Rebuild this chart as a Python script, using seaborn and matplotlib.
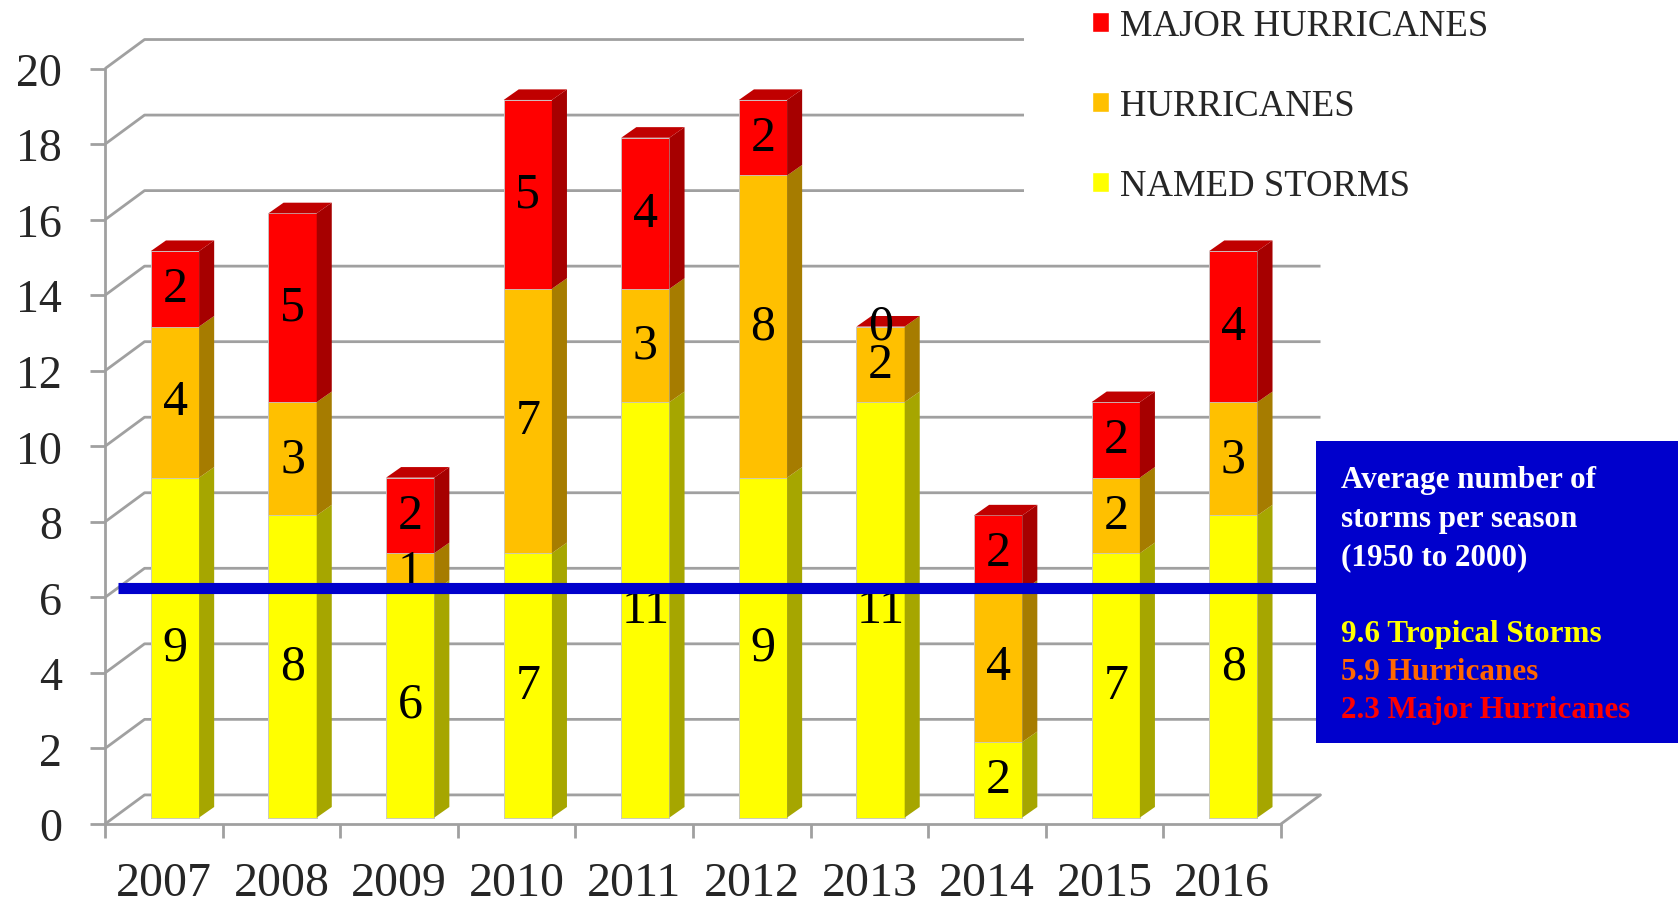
import numpy as np
import pandas as pd
import matplotlib
matplotlib.use('Agg')
import matplotlib.pyplot as plt
from matplotlib.patches import Polygon, Rectangle, Patch
import seaborn as sns

# Data
years = ['2007', '2008', '2009', '2010', '2011', '2012', '2013', '2014', '2015', '2016']
named_storms = [9, 8, 6, 7, 11, 9, 11, 2, 7, 8]
hurricanes = [4, 3, 1, 7, 3, 8, 2, 4, 2, 3]
major_hurricanes = [2, 5, 2, 5, 4, 2, 0, 2, 2, 4]
y_ticks = list(range(0, 21, 2))
avg_level = 6.25
box_lines = ['Average number of', 'storms per season', '(1950 to 2000)', '',
             '9.6 Tropical Storms', '5.9 Hurricanes', '2.3 Major Hurricanes']
box_colors = ['white', 'white', 'white', 'white', '#FFFF00', '#FF6600', '#FF0000']

# colours: front face / side face
YEL, YEL_S = '#FFFF00', '#A6A600'
ORA, ORA_S = '#FFC000', '#A67C00'
RED, RED_S, RED_T = '#FF0000', '#A60000', '#C00000'
GRID = '#A0A0A0'

# fake 3d depth (data units)
DX, DY = 0.336, 0.77     # wall depth
BX, BY = 0.095, 0.17     # bar front face offset
SX, SY = 0.128, 0.28     # bar depth

df = pd.DataFrame({'Year': years, 'named': named_storms,
                   'hurr': hurricanes, 'major': major_hurricanes})
df['lvl1'] = df['named']
df['lvl2'] = df['lvl1'] + df['hurr']
df['lvl3'] = df['lvl2'] + df['major']

sns.set_theme(style='white')
plt.rcParams['font.family'] = ['Liberation Serif', 'DejaVu Serif']

fig = plt.figure(figsize=(16.78, 9.04), dpi=100)
ax = fig.add_axes([0.0626, 0.0874, 0.7008, 0.8356])

# stacked bars drawn as overlapping cumulative bars
for col, c in [('lvl3', RED), ('lvl2', ORA), ('lvl1', YEL)]:
    sns.barplot(data=df, x='Year', y=col, color=c, saturation=1, width=0.41,
                errorbar=None, ax=ax, edgecolor='#C8C8C8', linewidth=0.6, zorder=3)

for p in ax.patches:
    p.set_x(p.get_x() + BX)
    p.set_y(p.get_y() + BY)

ax.set_xlim(-0.5, 9.5)
ax.set_ylim(0, 20)
n = len(years)

# back wall, left wall and floor lines
for v in y_ticks:
    ax.plot([-0.5, -0.5 + DX, n - 0.5 + DX], [v, v + DY, v + DY],
            color=GRID, lw=2, clip_on=False, zorder=1, solid_capstyle='butt')
ax.plot([n - 0.5, n - 0.5 + DX], [0, DY], color=GRID, lw=2, clip_on=False, zorder=1)

# side and top faces, value labels
yel_patches = ax.patches[2 * n:3 * n]
for i, p in enumerate(yel_patches):
    xl = p.get_x()
    xr = xl + p.get_width()
    segs = [(0, df['lvl1'][i], YEL_S, named_storms[i]),
            (df['lvl1'][i], df['lvl2'][i], ORA_S, hurricanes[i]),
            (df['lvl2'][i], df['lvl3'][i], RED_S, major_hurricanes[i])]
    for y0, y1, cs, val in segs:
        ax.add_patch(Polygon([(xr, y0 + BY), (xr + SX, y0 + BY + SY),
                              (xr + SX, y1 + BY + SY), (xr, y1 + BY)],
                             closed=True, facecolor=cs, edgecolor='none', zorder=3))
        ax.text((xl + xr) / 2, (y0 + y1) / 2 + BY, str(val), ha='center', va='center',
                fontsize=36, color='black', zorder=5)
    top = df['lvl3'][i] + BY
    ax.add_patch(Polygon([(xl, top), (xl + SX, top + SY), (xr + SX, top + SY), (xr, top)],
                         closed=True, facecolor=RED_T, edgecolor='none', zorder=3))

# average line
ax.axhline(avg_level, xmin=0.011, xmax=1.06, color='#0000CC', lw=8,
           clip_on=False, zorder=6, solid_capstyle='butt')

# axes styling
sns.despine(ax=ax, top=True, right=True)
for s in ['left', 'bottom']:
    ax.spines[s].set_color(GRID)
    ax.spines[s].set_linewidth(2)
ax.set_yticks(y_ticks)
ax.set_yticklabels([str(t) for t in y_ticks])
ax.set_xticks(range(n))
ax.set_xticklabels(years)
ax.set_xticks(np.arange(-0.5, n, 1), minor=True)
ax.tick_params(axis='y', labelsize=33, length=11, width=2, color=GRID, pad=20, left=True)
ax.tick_params(axis='x', which='major', labelsize=34.5, length=0, pad=27)
ax.tick_params(axis='x', which='minor', length=10, width=2, color=GRID, bottom=True)
ax.set_xlabel('')
ax.set_ylabel('')
ax.grid(False)

# legend with white background covering the upper grid lines
fig.add_artist(Rectangle((1024 / 1678, 1 - 220 / 904), 1 - 1024 / 1678, 220 / 904,
                         transform=fig.transFigure, facecolor='white', edgecolor='none', zorder=2))
handles = [Patch(facecolor=RED), Patch(facecolor=ORA), Patch(facecolor=YEL)]
labels = ['MAJOR HURRICANES', 'HURRICANES', 'NAMED STORMS']
fig.legend(handles, labels, loc='upper left', bbox_to_anchor=(1092 / 1678, 0.989),
           frameon=False, fontsize=26.5, handlelength=0.45, handleheight=0.45,
           handletextpad=0.3, labelspacing=1.23, borderpad=0, borderaxespad=0)

# info box
fig.add_artist(Rectangle((1316 / 1678, 1 - 744 / 904), 1 - 1316 / 1678, (744 - 442) / 904,
                         transform=fig.transFigure, facecolor='#0000CC', edgecolor='none', zorder=7))
for k, (t, c) in enumerate(zip(box_lines, box_colors)):
    fig.text(1341 / 1678, 1 - (481 + k * 38.3) / 904, t, color=c, fontsize=22.4,
             fontweight='bold', ha='left', va='center', zorder=8)

fig.savefig('out.png', dpi=100)
